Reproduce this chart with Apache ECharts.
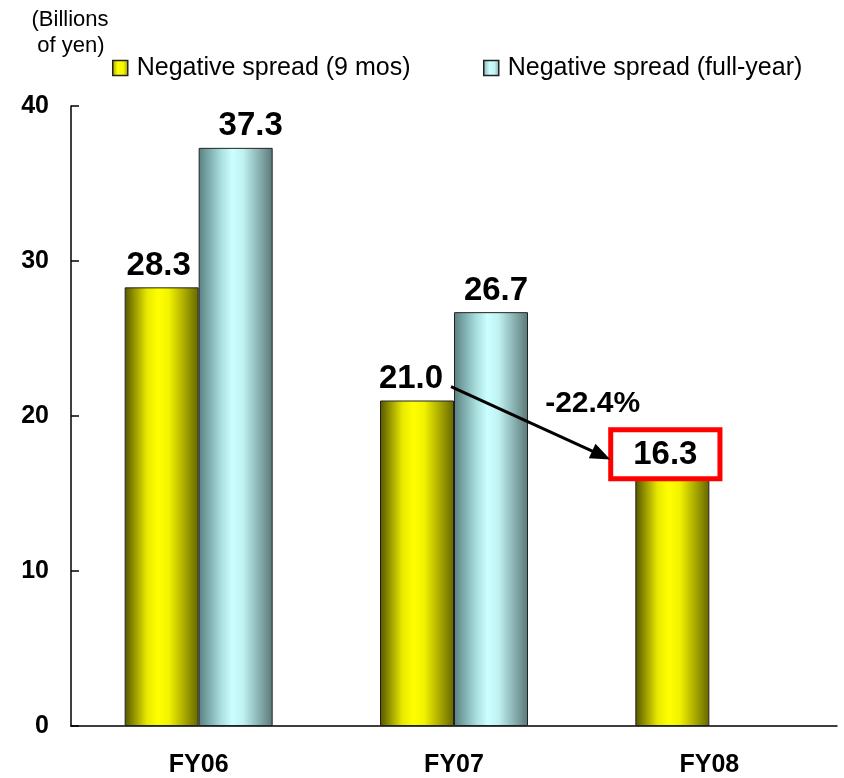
<!DOCTYPE html>
<html>
<head>
<meta charset="utf-8">
<script src="https://cdn.jsdelivr.net/npm/echarts@6/dist/echarts.min.js"></script>
<style>
  html, body { margin: 0; padding: 0; background: #fff; }
  #chart { width: 844px; height: 778px; }
</style>
</head>
<body>
<div id="chart"></div>
<script>
// Negative spread, billions of yen
const categories = ['FY06', 'FY07', 'FY08'];
const nineMonths = [28.3, 21.0, 16.3];
const fullYear = [37.3, 26.7, null];
const changeLabel = '-22.4%';
const seriesNames = ['Negative spread (9 mos)', 'Negative spread (full-year)'];

const FONT = '"Liberation Sans", Arial, sans-serif';

const yellowFill = new echarts.graphic.LinearGradient(0, 0, 1, 0, [
  { offset: 0, color: '#555500' },
  { offset: 0.3, color: '#e8e800' },
  { offset: 0.45, color: '#ffff00' },
  { offset: 0.6, color: '#f2f200' },
  { offset: 1, color: '#666600' }
]);
const cyanFill = new echarts.graphic.LinearGradient(0, 0, 1, 0, [
  { offset: 0, color: '#5a8080' },
  { offset: 0.3, color: '#a8dede' },
  { offset: 0.45, color: '#ccffff' },
  { offset: 0.6, color: '#c0f2f2' },
  { offset: 1, color: '#5a7878' }
]);
const yellowIcon = new echarts.graphic.LinearGradient(0, 0, 1, 0, [
  { offset: 0, color: '#a0a000' },
  { offset: 0.35, color: '#ffff00' },
  { offset: 0.7, color: '#f5f500' },
  { offset: 1, color: '#9a9a00' }
]);
const cyanIcon = new echarts.graphic.LinearGradient(0, 0, 1, 0, [
  { offset: 0, color: '#88b0b0' },
  { offset: 0.4, color: '#ccffff' },
  { offset: 0.7, color: '#c4f4f4' },
  { offset: 1, color: '#80a4a4' }
]);

const valueLabel = {
  show: true,
  position: 'top',
  distance: 5,
  fontFamily: FONT,
  fontWeight: 'bold',
  fontSize: 33,
  color: '#000',
  formatter: p => p.value == null ? '' : Number(p.value).toFixed(1)
};

// label tweaks per bar
const nineLabelOffsets = [[-3, 0], [-6, 0], [-7, 0]];
const fullLabelOffsets = [[15, 0], [5, 0], [0, 0]];

const nineData = nineMonths.map((v, i) => {
  const item = { value: v, label: { offset: nineLabelOffsets[i] } };
  if (i === nineMonths.length - 1) {
    // latest figure is boxed in red
    item.label = {
      offset: nineLabelOffsets[i],
      distance: -3,
      backgroundColor: '#fff',
      borderColor: '#ff0000',
      borderWidth: 5,
      padding: [5, 20, 3, 20],
      lineHeight: 36
    };
  }
  return item;
});
const fullData = fullYear.map((v, i) => ({ value: v, label: { offset: fullLabelOffsets[i] } }));

const chart = echarts.init(document.getElementById('chart'), null, { renderer: 'canvas' });

const legendText = { fontFamily: FONT, fontSize: 25, color: '#000', padding: [0, 0, 0, 4], lineHeight: 26 };

const option = {
  animation: false,
  backgroundColor: '#fff',
  grid: { left: 71, right: 7, top: 106, bottom: 52 },
  legend: [
    {
      data: [{ name: seriesNames[0], itemStyle: { color: yellowIcon, borderColor: '#222', borderWidth: 1.5 } }],
      left: 112, top: 55, padding: 0,
      itemWidth: 15, itemHeight: 15, icon: 'rect',
      textStyle: legendText
    },
    {
      data: [{ name: seriesNames[1], itemStyle: { color: cyanIcon, borderColor: '#222', borderWidth: 1.5 } }],
      left: 483, top: 55, padding: 0,
      itemWidth: 15, itemHeight: 15, icon: 'rect',
      textStyle: legendText
    }
  ],
  xAxis: {
    type: 'category',
    data: categories,
    axisLine: { lineStyle: { color: '#000', width: 1.5 } },
    axisTick: { inside: true, length: 7, lineStyle: { color: '#000', width: 1.5 } },
    axisLabel: { fontFamily: FONT, fontWeight: 'bold', fontSize: 25, color: '#000', margin: 27 }
  },
  yAxis: {
    type: 'value',
    min: 0, max: 40, interval: 10,
    splitLine: { show: false },
    axisLine: { show: true, lineStyle: { color: '#000', width: 1.5 } },
    axisTick: { show: true, inside: true, length: 8, lineStyle: { color: '#000', width: 1.5 } },
    axisLabel: { fontFamily: FONT, fontWeight: 'bold', fontSize: 25, color: '#000', margin: 22 }
  },
  series: [
    {
      name: seriesNames[0],
      type: 'bar',
      barWidth: 74,
      barGap: '0%',
      data: nineData,
      itemStyle: { color: yellowFill, borderColor: '#222', borderWidth: 1 },
      label: valueLabel
    },
    {
      name: seriesNames[1],
      type: 'bar',
      barWidth: 74,
      barGap: '0%',
      data: fullData,
      itemStyle: { color: cyanFill, borderColor: '#222', borderWidth: 1 },
      label: valueLabel
    }
  ]
};

chart.setOption(option);

// Annotations placed from the chart's own coordinate system
function drawAnnotations() {
  const from = chart.convertToPixel({ seriesIndex: 0 }, [categories[1], 21.9]);
  const to = chart.convertToPixel({ seriesIndex: 0 }, [categories[2], 17.2]);
  const start = [from[0] - 3, from[1]];
  const end = [to[0] - 99, to[1]];
  const dx = end[0] - start[0], dy = end[1] - start[1];
  const len = Math.hypot(dx, dy);
  const ux = dx / len, uy = dy / len;
  const headLen = 20, headHalf = 8;
  const base = [end[0] - ux * headLen, end[1] - uy * headLen];
  const mid = [(from[0] + to[0]) / 2 + 11, chart.convertToPixel({ seriesIndex: 0 }, [categories[1], 20.8])[1]];

  chart.setOption({
    graphic: [
      {
        type: 'text', x: 70, y: 9,
        style: { text: '(Billions', fontFamily: FONT, fontSize: 22, fill: '#000', align: 'center', verticalAlign: 'top' }
      },
      {
        type: 'text', x: 71, y: 35,
        style: { text: 'of yen)', fontFamily: FONT, fontSize: 22, fill: '#000', align: 'center', verticalAlign: 'top' }
      },
      {
        type: 'line', z: 100,
        shape: { x1: start[0], y1: start[1], x2: base[0] + ux * 2, y2: base[1] + uy * 2 },
        style: { stroke: '#000', lineWidth: 3 }
      },
      {
        type: 'polygon', z: 100,
        shape: { points: [
          end,
          [base[0] - uy * headHalf, base[1] + ux * headHalf],
          [base[0] + uy * headHalf, base[1] - ux * headHalf]
        ] },
        style: { fill: '#000' }
      },
      {
        type: 'text', z: 100, x: mid[0], y: mid[1],
        style: { text: changeLabel, fontFamily: FONT, fontWeight: 'bold', fontSize: 30, fill: '#000', align: 'center', verticalAlign: 'middle' }
      }
    ]
  });
}
drawAnnotations();
</script>
</body>
</html>
